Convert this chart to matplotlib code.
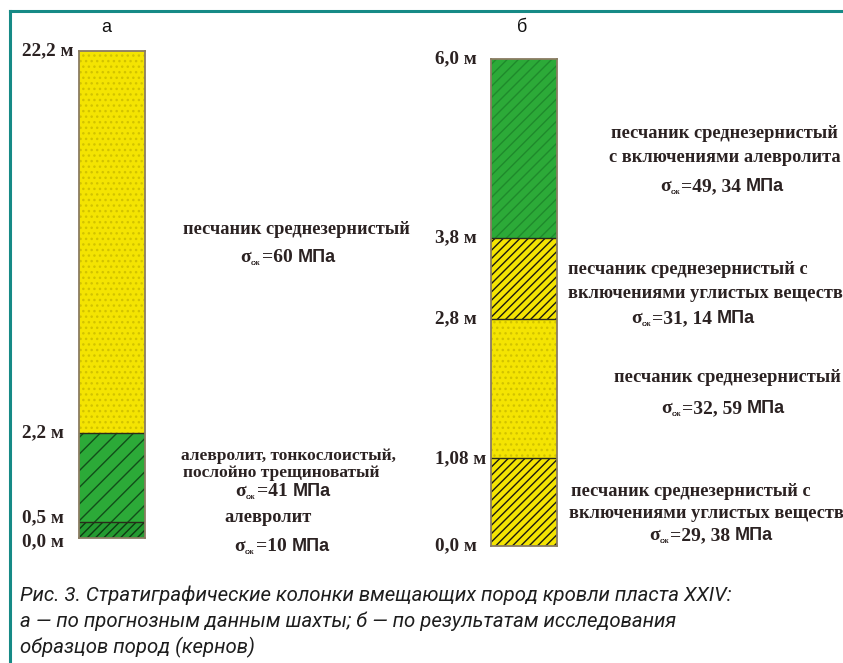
import matplotlib
matplotlib.use("Agg")
import numpy as np
import matplotlib.pyplot as plt
from matplotlib import font_manager as fm
from matplotlib.lines import Line2D

# ---------------- data ----------------
# column "а": layer boundaries (m) and rock type of each layer, bottom -> top
a_bounds = [0.0, 0.5, 2.2, 22.2]
a_rocks = ["silt_thin", "silt", "sand"]
a_sigma = ["10", "41", "60"]

# column "б": layer boundaries (m) and rock type of each layer, bottom -> top
b_bounds = [0.0, 1.08, 2.8, 3.8, 6.0]
b_rocks = ["sand_coal", "sand", "sand_coal", "sand_silt"]
b_sigma = ["29, 38", "32, 59", "31, 14", "49, 34"]

a_title = "а"
b_title = "б"

caption_lines = [
    "Рис. 3. Стратиграфические колонки вмещающих пород кровли пласта XXIV:",
    "а — по прогнозным данным шахты; б — по результатам исследования",
    "образцов пород (кернов)",
]

# ---------------- styles ----------------
W, H = 843, 663
plt.rcParams["hatch.linewidth"] = 1.0


def pick(names):
    for n in names:
        try:
            fm.findfont(fm.FontProperties(family=n), fallback_to_default=False)
            return n
        except Exception:
            pass
    return "DejaVu Sans"


SERIF = pick(["Liberation Serif", "DejaVu Serif"])
SANS = pick(["Liberation Sans", "DejaVu Sans"])
NARROW = pick(["Liberation Sans Narrow", "Roboto", "Open Sans"])

TXT = "#2b2222"
ROCK_STYLE = {
    "sand":      dict(face="#f4e402", hatch="...", hcol="#d2c300"),
    "sand_coal": dict(face="#f4e402", hatch="////", hcol="#1c1a10"),
    "silt":      dict(face="#2caa38", hatch="//", hcol="#124e1a"),
    "silt_thin": dict(face="#249a30", hatch="////", hcol="#0e3a12"),
    "sand_silt": dict(face="#2caa38", hatch="///", hcol="#1f8a2c"),
}

fig = plt.figure(figsize=(W / 100, H / 100), dpi=100)
fig.patch.set_facecolor("white")


def frac(x, y):
    return x / W, 1 - y / H


# frame lines along the top and left side
fig.add_artist(Line2D([10 / W, 1.0], [1 - 11 / H] * 2, color="#168a86", lw=2.2))
fig.add_artist(Line2D([10 / W] * 2, [0.0, 1 - 11 / H], color="#168a86", lw=2.2))


def column(rect, bounds, rocks, scale_knots=None):
    ax = fig.add_axes(rect)
    if scale_knots is not None:
        depths, pos = scale_knots
        ax.set_yscale("function",
                      functions=(lambda d: np.interp(d, depths, pos),
                                 lambda p: np.interp(p, pos, depths)))
    for lo, hi, rock in zip(bounds[:-1], bounds[1:], rocks):
        st = ROCK_STYLE[rock]
        ax.bar(0, hi - lo, bottom=lo, width=1.0, color=st["face"],
               hatch=st["hatch"], edgecolor=st["hcol"], linewidth=0)
    for b in bounds[1:-1]:
        ax.axhline(b, color="#2a2a1a", lw=1.0)
    ax.set_xlim(-0.5, 0.5)
    ax.set_ylim(bounds[0], bounds[-1])
    ax.set_xticks([])
    ax.set_yticks([])
    for s in ax.spines.values():
        s.set_color("#8a7c62")
        s.set_linewidth(1.3)
    return ax


# column "а" is drawn to a schematic (piecewise) depth scale
ax_a = column([79 / W, 1 - 538 / H, 66 / W, 487 / H], a_bounds, a_rocks,
              scale_knots=(a_bounds, [0, 16, 105, 487]))
ax_b = column([491 / W, 1 - 546 / H, 66 / W, 487 / H], b_bounds, b_rocks)


def depth_label(d):
    s = f"{d:.1f}" if abs(round(d, 1) - d) < 1e-9 else f"{d:.2f}"
    return s.replace(".", ",") + " м"


# the two bottom labels of column "а" sit very close; nudge them apart
nudge_a = {0.0: -3, 0.5: 3}
for ax, bounds, x0, nudge in ((ax_a, a_bounds, 22, nudge_a),
                              (ax_b, b_bounds, 435, {})):
    for d in bounds:
        ax.annotate(depth_label(d), xy=(x0 / W, d),
                    xycoords=("figure fraction", "data"),
                    xytext=(0, nudge.get(d, 0)), textcoords="offset points",
                    ha="left", va="center", fontsize=13.8,
                    family=SERIF, fontweight="bold", color=TXT)

fig.text(*frac(106, 27), a_title, ha="center", va="center",
         fontsize=13, family=SANS, color="#111111")
fig.text(*frac(522, 27), b_title, ha="center", va="center",
         fontsize=13, family=SANS, color="#111111")

renderer = fig.canvas.get_renderer()


def label(x, y, s, ha="center", size=13.2):
    fig.text(*frac(x, y), s, ha=ha, va="center", fontsize=size,
             family=SERIF, fontweight="bold", color=TXT)


def sigma(xc, yc, value):
    """σсж=<value> МПа, centred on xc, mixed serif / sans pieces."""
    pieces = [
        ("σ", dict(fontsize=14, family=SERIF, fontweight="bold"), 0, 0),
        ("сж", dict(fontsize=6, family=SERIF, fontweight="bold"), -3, 1),
        ("=" + value, dict(fontsize=14, family=SERIF, fontweight="bold"), 0, 5),
        ("МПа", dict(fontsize=13, family=SANS, fontweight="bold"), 0, 0),
    ]
    base = H - (yc + 5)
    arts, widths = [], []
    for s, kw, dy, gap in pieces:
        t = fig.text(0, 0, s, ha="left", va="baseline", color=TXT, **kw)
        widths.append(t.get_window_extent(renderer).width)
        arts.append(t)
    total = sum(widths) + sum(p[3] for p in pieces)
    x = xc - total / 2
    for t, w, (s, kw, dy, gap) in zip(arts, widths, pieces):
        t.set_position((x / W, (base + dy) / H))
        x += w + gap


# column "а" descriptions
label(296, 230, "песчаник среднезернистый")
sigma(288, 257, a_sigma[2])
label(181, 456, "алевролит, тонкослоистый,", ha="left", size=12.5)
label(183, 473, "послойно трещиноватый", ha="left", size=12.5)
sigma(283, 491, a_sigma[1])
label(268, 517, "алевролит")
sigma(282, 546, a_sigma[0])

# column "б" descriptions
label(724, 133, "песчаник среднезернистый")
label(725, 157, "с включениями алевролита")
sigma(722, 186, b_sigma[3])
label(568, 270, "песчаник среднезернистый с", ha="left")
label(568, 294, "включениями углистых веществ", ha="left")
sigma(693, 318, b_sigma[2])
label(727, 378, "песчаник среднезернистый")
sigma(723, 408, b_sigma[1])
label(571, 492, "песчаник среднезернистый с", ha="left")
label(569, 513, "включениями углистых веществ", ha="left")
sigma(711, 535, b_sigma[0])

# caption
for i, line in enumerate(caption_lines):
    fig.text(*frac(20, 595 + 26 * i), line, ha="left", va="center",
             fontsize=14.7, family=NARROW, style="italic", color="#1e1e1e")

fig.savefig("out.png", dpi=100)
